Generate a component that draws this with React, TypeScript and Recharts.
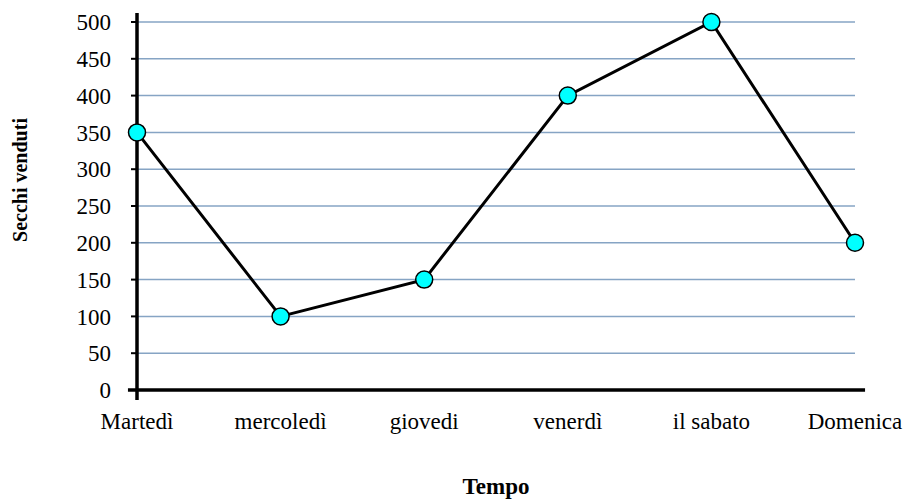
import { CartesianGrid, Label, Line, LineChart, ReferenceLine, XAxis, YAxis } from 'recharts'

const days = ['Martedì', 'mercoledì', 'giovedi', 'venerdì', 'il sabato', 'Domenica']
const sold = [350, 100, 150, 400, 500, 200]
const yTicks = [0, 50, 100, 150, 200, 250, 300, 350, 400, 450, 500]
const xTicks = [0, 1, 2, 3, 4, 5]

const data = days.map((day, i) => ({ idx: i, day, sold: sold[i] }))

const font = '"Liberation Serif", "Times New Roman", serif'
const tickStyle = { fontSize: 23, fill: '#000', fontFamily: font }

export default function App() {
  return (
    <div style={{ position: 'absolute', left: 0, top: 0, background: '#fff' }}>
      <LineChart width={905} height={502} data={data} margin={{ top: 22, right: 50, bottom: 0, left: 0 }}>
        <CartesianGrid vertical={false} stroke="#86a4c4" strokeWidth={1.5} />
        <XAxis
          type="number"
          dataKey="idx"
          domain={[0, 5]}
          ticks={xTicks}
          tickFormatter={(i: number) => days[i]}
          axisLine={false}
          tickLine={false}
          tickSize={0}
          tickMargin={23}
          height={112}
          tick={tickStyle}
          interval={0}
        >
          <Label
            value="Tempo"
            position="insideBottom"
            offset={8}
            style={{ fontSize: 23, fontWeight: 'bold', fill: '#000', fontFamily: font }}
          />
        </XAxis>
        <YAxis
          domain={[0, 500]}
          ticks={yTicks}
          width={137}
          axisLine={false}
          tickLine={{ stroke: '#000', strokeWidth: 2 }}
          tickSize={6}
          tickMargin={20}
          tick={tickStyle}
        >
          <Label
            value="Secchi venduti"
            angle={-90}
            position="center"
            dx={-49}
            dy={-26}
            style={{ fontSize: 20, fontWeight: 'bold', fill: '#000', fontFamily: font }}
          />
        </YAxis>
        {/* axis lines overshoot the plot area a little, as in the original */}
        <ReferenceLine
          segment={[{ x: -0.063, y: 0 }, { x: 5.07, y: 0 }]}
          stroke="#000"
          strokeWidth={3.5}
          ifOverflow="visible"
        />
        <ReferenceLine
          segment={[{ x: 0, y: -13.6 }, { x: 0, y: 512.2 }]}
          stroke="#000"
          strokeWidth={3.5}
          ifOverflow="visible"
        />
        <Line
          type="linear"
          dataKey="sold"
          stroke="#000"
          strokeWidth={3}
          dot={{ r: 8.5, fill: '#00ffff', stroke: '#000', strokeWidth: 1.5 }}
          isAnimationActive={false}
        />
      </LineChart>
    </div>
  )
}
